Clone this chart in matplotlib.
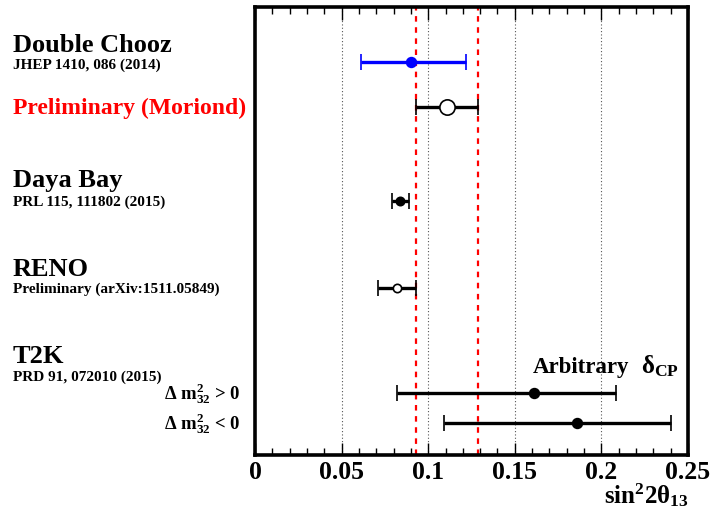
import matplotlib

matplotlib.use("Agg")
import matplotlib.pyplot as plt
from matplotlib.ticker import MultipleLocator

W, H = 713, 527

# measurements of sin^2(2 theta_13): central value, lower and upper error
dc_val, dc_lo, dc_hi = 0.090, 0.029, 0.032
pre_val, pre_lo, pre_hi = 0.111, 0.018, 0.018
db_val, db_lo, db_hi = 0.0835, 0.0045, 0.0055
reno_val, reno_lo, reno_hi = 0.082, 0.011, 0.011
t2k_nh_val, t2k_nh_lo, t2k_nh_hi = 0.161, 0.079, 0.0475
t2k_ih_val, t2k_ih_lo, t2k_ih_hi = 0.186, 0.077, 0.054

x_ticks = [0, 0.05, 0.1, 0.15, 0.2, 0.25]
x_tick_labels = ["0", "0.05", "0.1", "0.15", "0.2", "0.25"]

# row positions (pixel rows of the layout)
row_dc, row_pre, row_db, row_reno, row_nh, row_ih = 62, 107, 201, 288, 393, 423

plt.rcParams["font.family"] = ["Liberation Serif", "DejaVu Serif"]
plt.rcParams["font.weight"] = "bold"
plt.rcParams["mathtext.fontset"] = "custom"
plt.rcParams["mathtext.rm"] = "Liberation Serif:bold"
plt.rcParams["mathtext.bf"] = "Liberation Serif:bold"
plt.rcParams["mathtext.it"] = "Liberation Serif:bold"

fig = plt.figure(figsize=(W / 100, H / 100), dpi=100)
ax = fig.add_axes([255 / W, 1 - 455 / H, 433 / W, 448 / H])
ax.set_xlim(0, 0.25)
ax.set_ylim(455, 7)
ax.set_yticks([])

for g in [0.05, 0.1, 0.15, 0.2]:
    ax.axvline(g, color="#555555", ls=(0, (1, 2)), lw=0.8, zorder=0)
for r in [pre_val - pre_lo, pre_val + pre_hi]:
    ax.axvline(r, color="red", ls=(0, (2.5, 2.5)), lw=1.6, zorder=1)

def point(val, lo, hi, row, color, face, ms):
    ax.errorbar([val], [row], xerr=[[lo], [hi]], fmt="o", color=color,
                mfc=face, mec=color, ms=ms, mew=1.2, elinewidth=2.4,
                capsize=6, capthick=2.4, zorder=3)

point(dc_val, dc_lo, dc_hi, row_dc, "blue", "blue", 7)
point(pre_val, pre_lo, pre_hi, row_pre, "black", "white", 11)
point(db_val, db_lo, db_hi, row_db, "black", "black", 6)
point(reno_val, reno_lo, reno_hi, row_reno, "black", "white", 6)
point(t2k_nh_val, t2k_nh_lo, t2k_nh_hi, row_nh, "black", "black", 7)
point(t2k_ih_val, t2k_ih_lo, t2k_ih_hi, row_ih, "black", "black", 7)

ax.set_xticks(x_ticks)
ax.set_xticklabels(x_tick_labels, fontsize=18.5, fontweight="bold")
ax.xaxis.set_minor_locator(MultipleLocator(0.01))
ax.tick_params(axis="x", which="major", direction="in", length=9, width=1, pad=4, top=True)
ax.tick_params(axis="x", which="minor", direction="in", length=5, width=1, top=True)
ax.tick_params(axis="y", left=False, right=False)
for s in ax.spines.values():
    s.set_linewidth(2.6)

def ftext(x, y, s, **kw):
    fig.text(x / W, 1 - y / H, s, fontweight="bold", **kw)

ftext(13, 52, "Double Chooz", fontsize=19)
ftext(13, 69, "JHEP 1410, 086 (2014)", fontsize=11)
ftext(13, 114, "Preliminary (Moriond)", fontsize=17, color="red")
ftext(13, 187, "Daya Bay", fontsize=19)
ftext(13, 206, "PRL 115, 111802 (2015)", fontsize=11)
ftext(13, 276, "RENO", fontsize=19)
ftext(13, 293, "Preliminary (arXiv:1511.05849)", fontsize=11)
ftext(13, 363, "T2K", fontsize=19)
ftext(13, 381, "PRD 91, 072010 (2015)", fontsize=11)
ftext(241, 399, r"$\Delta$ m$^{2}_{32}$ > 0", fontsize=13.5, ha="right")
ftext(241, 429, r"$\Delta$ m$^{2}_{32}$ < 0", fontsize=13.5, ha="right")
ftext(533, 373, "Arbitrary", fontsize=16.5)
ftext(641, 373, r"$\mathrm{\delta}_{\mathrm{CP}}$", fontsize=18)
ftext(689, 503, r"sin$^{2}$2$\mathrm{\theta}_{13}$", fontsize=18, ha="right")

fig.savefig("out.png", dpi=100)
